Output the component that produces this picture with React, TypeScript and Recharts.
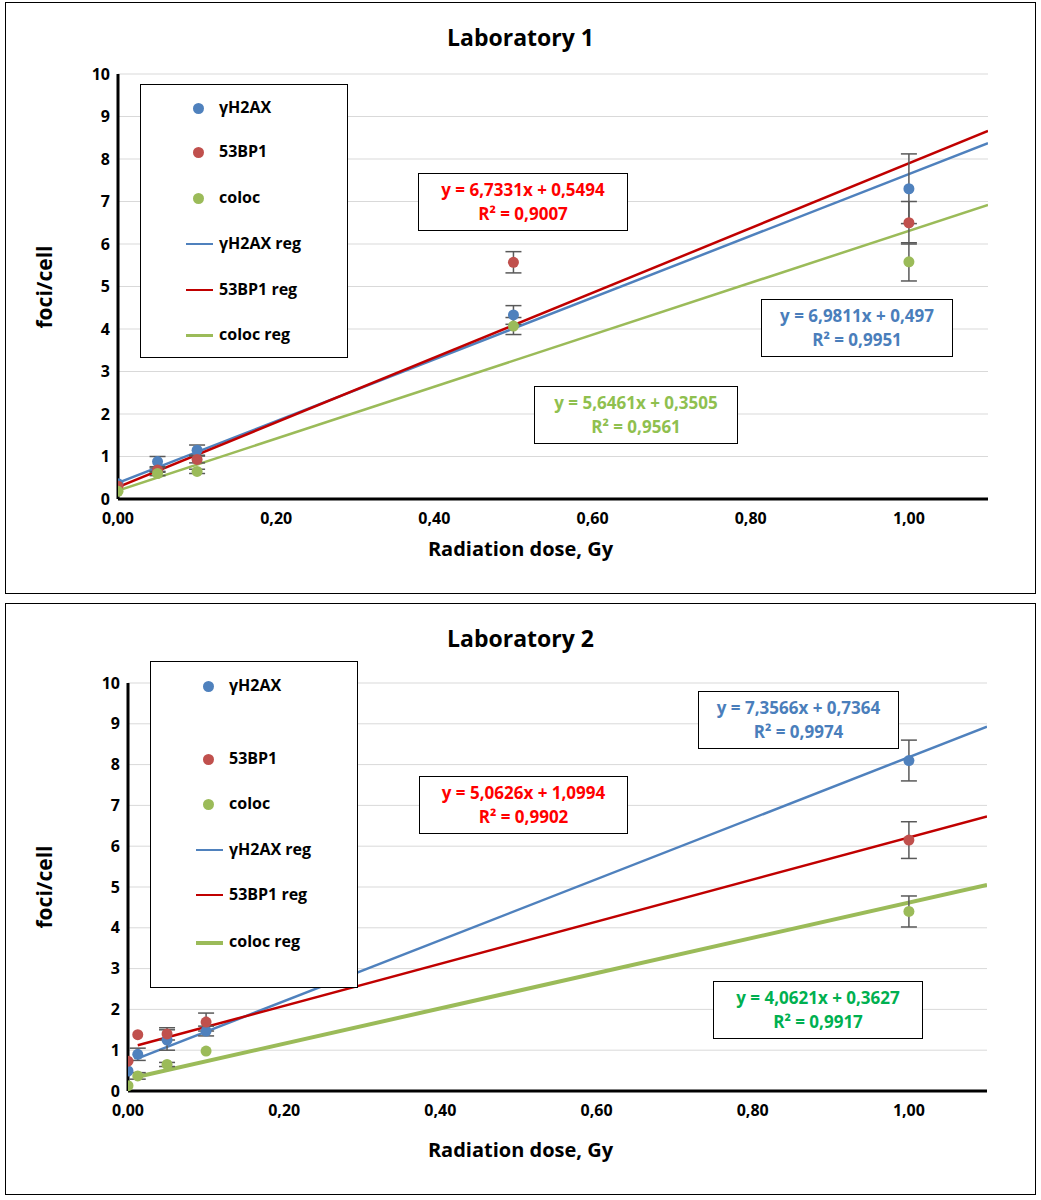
import React from 'react';
import { ComposedChart, Scatter, Line, XAxis, YAxis, CartesianGrid, ErrorBar } from 'recharts';

const FONT = '"Open Sans", "Liberation Sans", sans-serif';
const BLUE = '#4f81bd';
const RED_DOT = '#c0504d';
const RED_LINE = '#c00000';
const GREEN = '#9bbb59';

const xTicks = [0, 0.2, 0.4, 0.6, 0.8, 1.0];
const yTicks = [0, 1, 2, 3, 4, 5, 6, 7, 8, 9, 10];

// Laboratory 1
const lab1H2ax = [
  { x: 0, y: 0.36, err: 0 }, { x: 0.05, y: 0.88, err: 0.12 }, { x: 0.1, y: 1.15, err: 0.12 },
  { x: 0.5, y: 4.33, err: 0.22 }, { x: 1.0, y: 7.3, err: 0.82 },
];
const lab1Bp1 = [
  { x: 0, y: 0.3, err: 0 }, { x: 0.05, y: 0.68, err: 0.05 }, { x: 0.1, y: 0.93, err: 0.08 },
  { x: 0.5, y: 5.57, err: 0.25 }, { x: 1.0, y: 6.5, err: 0.5 },
];
const lab1Coloc = [
  { x: 0, y: 0.18, err: 0 }, { x: 0.05, y: 0.6, err: 0.05 }, { x: 0.1, y: 0.65, err: 0.05 },
  { x: 0.5, y: 4.07, err: 0.2 }, { x: 1.0, y: 5.58, err: 0.45 },
];
const lab1H2axReg = [{ x: 0, y: 0.38 }, { x: 1.1, y: 8.37 }];
const lab1Bp1Reg = [{ x: 0, y: 0.28 }, { x: 1.1, y: 8.66 }];
const lab1ColocReg = [{ x: 0, y: 0.2 }, { x: 1.1, y: 6.92 }];

// Laboratory 2
const lab2H2ax = [
  { x: 0, y: 0.49, err: 0 }, { x: 0.0125, y: 0.9, err: 0.15 }, { x: 0.05, y: 1.25, err: 0.25 },
  { x: 0.1, y: 1.47, err: 0.12 }, { x: 1.0, y: 8.1, err: 0.5 },
];
const lab2Bp1 = [
  { x: 0, y: 0.73, err: 0 }, { x: 0.0125, y: 1.38, err: 0 }, { x: 0.05, y: 1.4, err: 0.15 },
  { x: 0.1, y: 1.69, err: 0.22 }, { x: 1.0, y: 6.15, err: 0.45 },
];
const lab2Coloc = [
  { x: 0, y: 0.13, err: 0 }, { x: 0.0125, y: 0.37, err: 0.08 }, { x: 0.05, y: 0.65, err: 0.05 },
  { x: 0.1, y: 0.98, err: 0 }, { x: 1.0, y: 4.4, err: 0.38 },
];
const lab2H2axReg = [{ x: 0.0125, y: 0.8 }, { x: 1.1, y: 8.93 }];
const lab2Bp1Reg = [{ x: 0.0125, y: 1.12 }, { x: 1.1, y: 6.73 }];
const lab2ColocReg = [{ x: 0.0125, y: 0.35 }, { x: 1.1, y: 5.05 }];

const fmt = (v: number) => v.toFixed(2).replace('.', ',');

const tick = { fill: '#000', fontSize: 16, fontWeight: 700, fontFamily: FONT };

function Dot(props: any) {
  const { cx, cy, fill } = props;
  return <circle cx={cx} cy={cy} r={5.5} fill={fill} />;
}

interface PanelProps {
  top: number;
  title: string;
  plot: { left: number; right: number; top: number; bottom: number };
  series: { data: any[]; color: string }[];
  regs: { data: any[]; color: string; width: number }[];
  legend: { left: number; top: number; width: number; height: number; rows: number[] };
  boxes: { left: number; top: number; width: number; color: string; lines: string[] }[];
}

function Panel({ top, title, plot, series, regs, legend, boxes }: PanelProps) {
  const W = 1031;
  const H = 592;
  const names = ['γH2AX', '53BP1', 'coloc', 'γH2AX reg', '53BP1 reg', 'coloc reg'];
  return (
    <div style={{ position: 'absolute', left: 5, top, width: W - 2, height: H - 2, border: '1.5px solid #000', fontFamily: FONT }}>
      <div style={{ position: 'absolute', left: 0, width: '100%', top: 18, textAlign: 'center', fontSize: 23, fontWeight: 700 }}>{title}</div>
      <div style={{ position: 'absolute', left: 0, width: '100%', top: H - 60, textAlign: 'center', fontSize: 20, fontWeight: 700 }}>Radiation dose, Gy</div>
      <div style={{ position: 'absolute', left: 38, top: plot.top + (plot.bottom - plot.top) / 2, transform: 'translate(-50%,-50%) rotate(-90deg)', fontSize: 21, fontWeight: 700, whiteSpace: 'nowrap' }}>foci/cell</div>
      <div style={{ position: 'absolute', left: 0, top: 0 }}>
        <ComposedChart width={W} height={H}
          margin={{ left: plot.left - 40, right: W - plot.right, top: plot.top, bottom: H - plot.bottom - 34 }}>
          <CartesianGrid vertical={false} stroke="#d9d9d9" />
          <XAxis type="number" dataKey="x" domain={[0, 1.1]} ticks={xTicks} tickFormatter={fmt}
            allowDataOverflow height={34} tickMargin={8} tick={tick} tickLine={false} axisLine={{ stroke: '#000', strokeWidth: 3 }} />
          <YAxis type="number" dataKey="y" domain={[0, 10]} ticks={yTicks} width={40}
            tick={tick} tickLine={false} axisLine={{ stroke: '#000', strokeWidth: 3 }} />
          {regs.map((r, i) => (
            <Line key={'r' + i} data={r.data} dataKey="y" stroke={r.color} strokeWidth={r.width}
              dot={false} isAnimationActive={false} />
          ))}
          {series.map((s, i) => (
            <Scatter key={'s' + i} data={s.data} dataKey="y" fill={s.color} shape={<Dot />} isAnimationActive={false}>
              <ErrorBar dataKey="err" direction="y" stroke="#595959" strokeWidth={1.5} width={8} />
            </Scatter>
          ))}
        </ComposedChart>
      </div>
      <div style={{ position: 'absolute', left: legend.left, top: legend.top, width: legend.width, height: legend.height, border: '1.5px solid #000', background: '#fff' }}>
        {names.map((n, i) => {
          const y = legend.rows[i] - legend.top;
          const c = [BLUE, RED_DOT, GREEN, BLUE, RED_LINE, GREEN][i];
          return (
            <React.Fragment key={n}>
              {i < 3 ? (
                <div style={{ position: 'absolute', left: 52, top: y - 5, width: 11, height: 11, borderRadius: '50%', background: c }} />
              ) : (
                <div style={{ position: 'absolute', left: 45, top: y - 1, width: 27, height: i === 5 ? regs[2].width : 2, background: c }} />
              )}
              <div style={{ position: 'absolute', left: 78, top: y - 12, fontSize: 16, fontWeight: 700 }}>{n}</div>
            </React.Fragment>
          );
        })}
      </div>
      {boxes.map((b, i) => (
        <div key={i} style={{ position: 'absolute', left: b.left, top: b.top, width: b.width, border: '1.5px solid #000', background: '#fff', color: b.color, fontSize: 17, fontWeight: 700, textAlign: 'center', lineHeight: '24px', padding: '4px 0' }}>
          {b.lines.map((l) => <div key={l}>{l}</div>)}
        </div>
      ))}
    </div>
  );
}

export default function App() {
  return (
    <div style={{ position: 'absolute', left: 0, top: 0, width: 1041, height: 1200, background: '#fff' }}>
      <Panel top={2} title="Laboratory 1"
        plot={{ left: 112, right: 982, top: 71, bottom: 496 }}
        series={[{ data: lab1H2ax, color: BLUE }, { data: lab1Bp1, color: RED_DOT }, { data: lab1Coloc, color: GREEN }]}
        regs={[{ data: lab1H2axReg, color: BLUE, width: 2.5 }, { data: lab1Bp1Reg, color: RED_LINE, width: 2.5 }, { data: lab1ColocReg, color: GREEN, width: 2.5 }]}
        legend={{ left: 134, top: 81, width: 206, height: 272, rows: [104, 148, 194, 240, 286, 331] }}
        boxes={[
          { left: 412, top: 170, width: 208, color: '#ff0000', lines: ['y = 6,7331x + 0,5494', 'R² = 0,9007'] },
          { left: 755, top: 296, width: 190, color: '#4a7ebb', lines: ['y = 6,9811x + 0,497', 'R² = 0,9951'] },
          { left: 528, top: 383, width: 202, color: '#8fc04f', lines: ['y = 5,6461x + 0,3505', 'R² = 0,9561'] },
        ]}
      />
      <Panel top={603} title="Laboratory 2"
        plot={{ left: 122, right: 981, top: 79, bottom: 487 }}
        series={[{ data: lab2H2ax, color: BLUE }, { data: lab2Bp1, color: RED_DOT }, { data: lab2Coloc, color: GREEN }]}
        regs={[{ data: lab2H2axReg, color: BLUE, width: 2.5 }, { data: lab2Bp1Reg, color: RED_LINE, width: 2.5 }, { data: lab2ColocReg, color: GREEN, width: 4 }]}
        legend={{ left: 144, top: 57, width: 206, height: 325, rows: [81, 154, 199, 245, 290, 337] }}
        boxes={[
          { left: 692, top: 87, width: 199, color: '#4a7ebb', lines: ['y = 7,3566x + 0,7364', 'R² = 0,9974'] },
          { left: 413, top: 172, width: 207, color: '#ff0000', lines: ['y = 5,0626x + 1,0994', 'R² = 0,9902'] },
          { left: 707, top: 377, width: 208, color: '#00b050', lines: ['y = 4,0621x + 0,3627', 'R² = 0,9917'] },
        ]}
      />
    </div>
  );
}
